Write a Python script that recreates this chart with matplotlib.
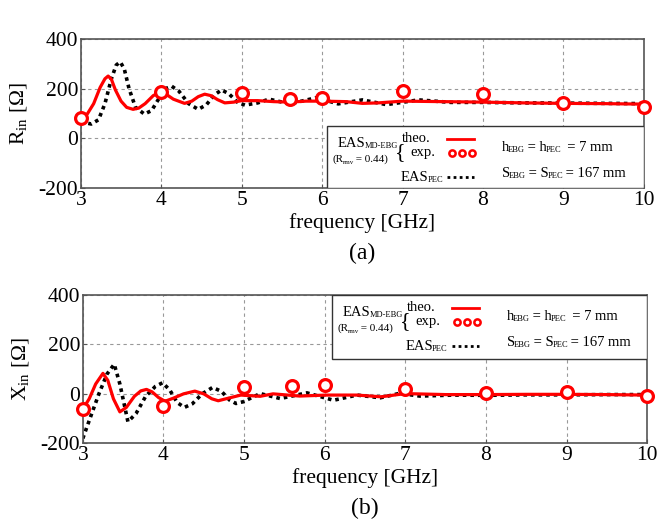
import matplotlib
matplotlib.use("Agg")
import matplotlib.pyplot as plt
from matplotlib.patches import Rectangle
from matplotlib.transforms import offset_copy

plt.rcParams['font.family'] = ['Liberation Serif', 'DejaVu Serif']
plt.rcParams['axes.unicode_minus'] = False

# ---- data ----
# (a) input resistance
r_theo_f = [3.0, 3.08, 3.16, 3.24, 3.3, 3.34, 3.38, 3.43, 3.5, 3.57, 3.65, 3.72, 3.8,
            3.9, 3.98, 4.05, 4.15, 4.29, 4.38, 4.46, 4.54, 4.62, 4.7, 4.79, 4.9, 5.0,
            5.2, 5.4, 5.6, 5.8, 6.0, 6.3, 6.5, 6.7, 7.0, 7.5, 8.0, 8.5, 9.0, 9.5, 10.0]
r_theo = [80, 98, 140, 205, 240, 251, 238, 195, 150, 125, 117, 122, 140,
          172, 186, 180, 158, 141, 150, 168, 178, 172, 156, 143, 146, 152,
          152, 148, 146, 150, 150, 148, 141, 143, 150, 148, 146, 143, 141, 140, 138]
r_pec_f = [3.0, 3.13, 3.22, 3.3, 3.38, 3.44, 3.49, 3.54, 3.6, 3.68, 3.79, 3.88, 3.97,
           4.05, 4.13, 4.22, 4.34, 4.46, 4.56, 4.66, 4.75, 4.84, 4.95, 5.04, 5.2,
           5.34, 5.6, 5.93, 6.2, 6.5, 6.8, 7.2, 7.6, 8.0, 8.5, 9.0, 9.5, 10.0]
r_pec = [67, 58, 75, 140, 240, 295, 308, 280, 200, 125, 98, 112, 160,
         200, 210, 190, 140, 117, 135, 175, 195, 180, 145, 134, 143,
         158, 139, 164, 139, 155, 136, 155, 145, 145, 143, 142, 141, 140]
r_exp_f = [3.0, 4.0, 5.0, 5.6, 6.0, 7.0, 8.0, 9.0, 10.0]
r_exp = [82, 188, 182, 159, 163, 189, 177, 143, 126]

# (b) input reactance
x_theo_f = [3.0, 3.08, 3.16, 3.25, 3.31, 3.38, 3.46, 3.54, 3.64, 3.72, 3.79, 3.86,
            3.94, 4.02, 4.12, 4.25, 4.39, 4.5, 4.6, 4.68, 4.8, 4.96, 5.2, 5.36,
            5.69, 6.02, 6.4, 6.7, 7.0, 7.5, 8.0, 8.5, 9.0, 9.5, 10.0]
x_theo = [-62, -20, 40, 83, 55, -20, -73, -55, -10, 12, 18, 8,
          -15, -30, -18, 0, 11, 0, -20, -28, -18, -5, -10, 0,
          -9, -5, -5, -12, 1, -3, -3, -2, -2, -3, -5]
x_pec_f = [3.0, 3.1, 3.2, 3.3, 3.39, 3.46, 3.56, 3.66, 3.78, 3.9, 3.99, 4.08, 4.17,
           4.26, 4.36, 4.48, 4.61, 4.72, 4.82, 4.9, 4.99, 5.2, 5.45, 5.78, 6.11,
           6.4, 6.69, 6.93, 7.18, 7.6, 8.0, 8.5, 9.0, 9.5, 10.0]
x_pec = [-181, -90, 0, 80, 120, 40, -113, -80, -10, 30, 45, 15, -35,
         -55, -40, 0, 26, 10, -25, -39, -32, 1, -19, 4, -26,
         -5, -16, 2, -9, -5, -6, -4, -4, -3, -3]
x_exp_f = [3.0, 4.0, 5.0, 5.6, 6.0, 7.0, 8.0, 9.0, 10.0]
x_exp = [-62, -49, 26, 33, 36, 19, 5, 7, -8]

xticks = [3, 4, 5, 6, 7, 8, 9, 10]
yticks = [-200, 0, 200, 400]

RED = '#ff0000'
fig = plt.figure(figsize=(6.57, 5.27), dpi=100)
renderer = fig.canvas.get_renderer()


def rich(ax, org, dx, dy, parts, right=False):
    # parts: (text, size, shift down in px); dx, dy in px from box top-left
    widths = []
    for s, size, sh in parts:
        t = ax.text(0, 0, s, fontsize=size)
        widths.append(t.get_window_extent(renderer).width - 1)
        t.remove()
    x = dx - sum(widths) if right else dx
    for (s, size, sh), w in zip(parts, widths):
        tr = offset_copy(ax.transAxes, fig=fig, x=x, y=-(dy + sh), units='dots')
        ax.text(org[0], org[1], s, transform=tr, fontsize=size, va='baseline', zorder=6)
        x += w


def legend_box(ax, x0, y0, w, h):
    ax.add_patch(Rectangle((x0, y0), w, h, transform=ax.transAxes, facecolor='white',
                           edgecolor='#333333', lw=1.0, zorder=5))
    org = (x0, y0 + h)  # top-left corner
    rich(ax, org, 11, 21, [('EAS', 10.5, 0), ('MD-EBG', 6, 1)])
    rich(ax, org, 6, 36, [('(R', 8, 0), ('rmv', 5, 1.5), (' = 0.44)', 8, 0)])
    rich(ax, org, 115, 55, [('EAS', 10.5, 0), ('PEC', 6, 1)], right=True)
    rich(ax, org, 75, 16, [('theo.', 10.5, 0)])
    rich(ax, org, 84, 30, [('exp.', 10.5, 0)])
    rich(ax, org, 68, 31, [('{', 16, 0)])
    rich(ax, org, 175, 25, [('h', 10.5, 0), ('EBG', 6, 1), (' = h', 10.5, 0),
                            ('PEC', 6, 1), ('  = 7 mm', 10.5, 0)])
    rich(ax, org, 175, 51, [('S', 10.5, 0), ('EBG', 6, 1), (' = S', 10.5, 0),
                            ('PEC', 6, 1), (' = 167 mm', 10.5, 0)])

    # symbol samples
    bw, bh = ax.bbox.width, ax.bbox.height
    ys = [y0 + h - 13 / bh] * 2
    ax.plot([x0 + 120 / bw, x0 + 147 / bw], ys, color=RED, lw=2,
            transform=ax.transAxes, zorder=6)
    ys = [y0 + h - 51 / bh] * 2
    ax.plot([x0 + 120 / bw, x0 + 147 / bw], ys, color='black', lw=2, ls=(0, (1, 1.2)),
            transform=ax.transAxes, zorder=6)
    for px in (125, 135, 145):
        ax.plot([x0 + px / bw], [y0 + h - 26.5 / bh], 'o', ms=4.5,
                mfc='white', mec=RED, mew=1.8, transform=ax.transAxes, zorder=6)


def panel(rect, ff, theo, pf, pec, ef, exp, ylab, tag, box):
    ax = fig.add_axes(rect)
    ax.plot(pf, pec, color='black', lw=2.6, ls=(0, (1, 1.1)), zorder=2)
    ax.plot(ff, theo, color=RED, lw=2.3, zorder=3)
    ax.plot(ef, exp, 'o', ms=8.5, mfc='white', mec=RED, mew=2.3, zorder=4, clip_on=False)
    ax.set_xlim(3, 10)
    ax.set_ylim(-200, 400)
    ax.set_xticks(xticks)
    ax.set_yticks(yticks)
    ax.grid(True, ls=(0, (3, 3)), color='#999999', lw=0.8)
    ax.tick_params(direction='in', length=3, labelsize=15.5, pad=2, color='#555555')
    for s in ax.spines.values():
        s.set_color('#555555')
        s.set_linewidth(1.2)
    ax.set_xlabel('frequency [GHz]', fontsize=15.5, labelpad=2)
    ax.set_ylabel(ylab, fontsize=15.5, labelpad=6)
    ax.text(0.5, -0.44, tag, transform=ax.transAxes, fontsize=17, ha='center', va='center')
    legend_box(ax, *box)
    return ax


panel([0.123, 0.643, 0.857, 0.283], r_theo_f, r_theo, r_pec_f, r_pec, r_exp_f, r_exp,
      r'R$_{\mathregular{in}}$ [Ω]', '(a)', (0.437, 0.0, 0.563, 0.416))
panel([0.126, 0.159, 0.859, 0.281], x_theo_f, x_theo, x_pec_f, x_pec, x_exp_f, x_exp,
      r'X$_{\mathregular{in}}$ [Ω]', '(b)', (0.441, 0.568, 0.559, 0.432))

fig.savefig('out.png', dpi=100)
